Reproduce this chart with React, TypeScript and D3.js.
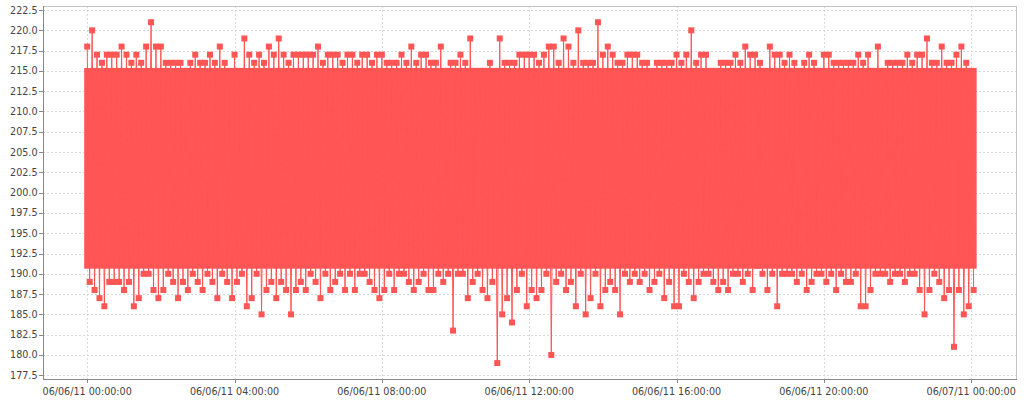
import * as d3 from 'd3'

// series sampled every STEP_MIN minutes: highest and lowest reading in each slot
const START = new Date(2011, 5, 6, 0, 0, 0)
const STEP_MIN = 8

const HIGHS = [
  218, 220, 217, 216, 217, 217, 217, 218, 217, 216, 217, 216, 218, 221, 218, 218, 216, 216, 216, 216,
  215, 216, 217, 216, 216, 217, 216, 218, 216, 215, 217, 215, 219, 217, 216, 217, 216, 218, 217, 219,
  217, 216, 217, 217, 217, 217, 217, 218, 216, 217, 217, 217, 216, 217, 217, 216, 217, 217, 216, 217,
  217, 216, 216, 216, 217, 216, 218, 216, 217, 217, 216, 216, 218, 215, 216, 216, 217, 216, 219, 215,
  215, 215, 216, 215, 219, 216, 216, 216, 217, 217, 217, 217, 216, 217, 218, 218, 216, 219, 218, 216,
  220, 216, 216, 216, 221, 217, 218, 217, 216, 216, 217, 217, 217, 216, 216, 215, 216, 216, 216, 216,
  217, 216, 217, 220, 216, 217, 217, 215, 215, 216, 216, 216, 217, 216, 218, 217, 217, 216, 215, 218,
  217, 217, 216, 217, 216, 215, 216, 217, 216, 215, 217, 217, 216, 216, 216, 216, 216, 217, 216, 217,
  215, 218, 215, 216, 216, 216, 216, 217, 216, 217, 217, 219, 216, 216, 218, 216, 216, 217, 218, 216, 215,
]

const LOWS = [
  189, 188, 187, 186, 189, 189, 189, 188, 189, 186, 187, 190, 190, 188, 187, 188, 190, 189, 187, 189,
  188, 190, 189, 188, 190, 189, 187, 190, 189, 187, 189, 190, 186, 187, 190, 185, 188, 189, 187, 189,
  188, 185, 188, 189, 188, 190, 189, 187, 190, 188, 189, 190, 188, 190, 188, 190, 190, 189, 188, 187,
  188, 190, 188, 190, 190, 189, 188, 189, 190, 188, 188, 190, 189, 190, 183, 190, 190, 187, 189, 190,
  188, 187, 189, 179, 185, 187, 184, 188, 190, 186, 188, 187, 188, 190, 180, 189, 190, 188, 189, 186,
  190, 185, 187, 190, 186, 188, 189, 188, 185, 190, 189, 190, 189, 190, 188, 189, 190, 187, 189, 186,
  186, 190, 189, 187, 189, 190, 190, 189, 188, 189, 188, 190, 190, 189, 190, 188, 191, 190, 188, 190,
  186, 190, 190, 190, 189, 190, 188, 189, 190, 190, 189, 190, 188, 190, 189, 189, 190, 186, 186, 188,
  190, 190, 190, 189, 190, 190, 189, 190, 190, 188, 185, 188, 190, 189, 187, 188, 181, 188, 185, 186, 188,
]

// range where readings are so dense that the markers merge into a solid band
const CORE_LOW = 191
const CORE_HIGH = 215

const Y_TICKS = [177.5, 180, 182.5, 185, 187.5, 190, 192.5, 195, 197.5, 200, 202.5, 205, 207.5, 210, 212.5, 215, 217.5, 220, 222.5]
const X_TICK_HOURS = [0, 4, 8, 12, 16, 20, 24]
const X_RANGE_MIN = [-72, 1513]
const Y_RANGE = [177, 223]

const W = 1024
const H = 400
const PLOT = { left: 43, right: 1016, top: 6, bottom: 379 }
const RED = '#ff5555'
const MARK = 6
const FONT = '"DejaVu Sans", sans-serif'

interface Pt { date: Date; v: number }

const addMin = (m: number) => new Date(START.getTime() + m * 60000)

const points: Pt[] = HIGHS.flatMap((h, i) => [
  { date: addMin(i * STEP_MIN), v: h },
  { date: addMin(i * STEP_MIN + STEP_MIN / 2), v: LOWS[i] },
])

export default function App() {
  const x = d3.scaleTime()
    .domain([addMin(X_RANGE_MIN[0]), addMin(X_RANGE_MIN[1])])
    .range([PLOT.left, PLOT.right])
  const y = d3.scaleLinear().domain(Y_RANGE).range([PLOT.bottom + 0.3, PLOT.top])

  const line = d3.line<Pt>().x(d => x(d.date)).y(d => y(d.v))
  const fmt = d3.timeFormat('%m/%d/%y %H:%M:%S')
  const xTicks = X_TICK_HOURS.map(h => addMin(h * 60))
  const px = (v: number) => Math.round(v) + 0.5

  const first = points[0].date
  const last = points[points.length - 1].date

  return (
    <div style={{ position: 'fixed', left: 0, top: 0 }}>
      <svg width={W} height={H} style={{ display: 'block', background: '#fff' }}>
        {/* grid */}
        <g stroke="#d9d9d9" strokeWidth={1} strokeDasharray="2,2">
          {Y_TICKS.map(t => (
            <line key={`gy${t}`} x1={PLOT.left} x2={PLOT.right} y1={px(y(t))} y2={px(y(t))} />
          ))}
          {xTicks.map(t => (
            <line key={`gx${+t}`} y1={PLOT.top} y2={PLOT.bottom} x1={px(x(t))} x2={px(x(t))} />
          ))}
        </g>

        {/* dense band */}
        <rect
          x={x(first) - MARK / 2}
          y={y(CORE_HIGH) - MARK / 2}
          width={x(last) - x(first) + MARK}
          height={y(CORE_LOW) - y(CORE_HIGH) + MARK}
          fill={RED}
        />

        <path d={line(points) ?? ''} fill="none" stroke={RED} strokeWidth={1} />
        <g fill={RED}>
          {points.map((d, i) => (
            <rect key={i} x={x(d.date) - MARK / 2} y={y(d.v) - MARK / 2} width={MARK} height={MARK} />
          ))}
        </g>

        {/* outline */}
        <line x1={PLOT.left} x2={PLOT.right + 0.5} y1={PLOT.top + 0.5} y2={PLOT.top + 0.5} stroke="#c4c4c4" />
        <line x1={PLOT.right + 0.5} x2={PLOT.right + 0.5} y1={PLOT.top} y2={PLOT.bottom} stroke="#c4c4c4" />
        <line x1={PLOT.left + 0.5} x2={PLOT.left + 0.5} y1={PLOT.top} y2={PLOT.bottom + 1} stroke="#888" />
        <line x1={PLOT.left} x2={PLOT.right + 1} y1={PLOT.bottom + 0.5} y2={PLOT.bottom + 0.5} stroke="#888" />

        {/* y axis */}
        <g fontFamily={FONT} fontSize={9.6} fill="#444">
          {Y_TICKS.map(t => (
            <g key={`ty${t}`}>
              <line x1={PLOT.left - 4} x2={PLOT.left} y1={px(y(t))} y2={px(y(t))} stroke="#888" />
              <text x={PLOT.left - 5.5} y={y(t)} dy="0.36em" textAnchor="end">{t.toFixed(1)}</text>
            </g>
          ))}
          {xTicks.map(t => (
            <g key={`tx${+t}`}>
              <line x1={px(x(t))} x2={px(x(t))} y1={PLOT.bottom} y2={PLOT.bottom + 4} stroke="#888" />
              <text x={x(t)} y={PLOT.bottom + 15.5} textAnchor="middle">{fmt(t)}</text>
            </g>
          ))}
        </g>
      </svg>
    </div>
  )
}
